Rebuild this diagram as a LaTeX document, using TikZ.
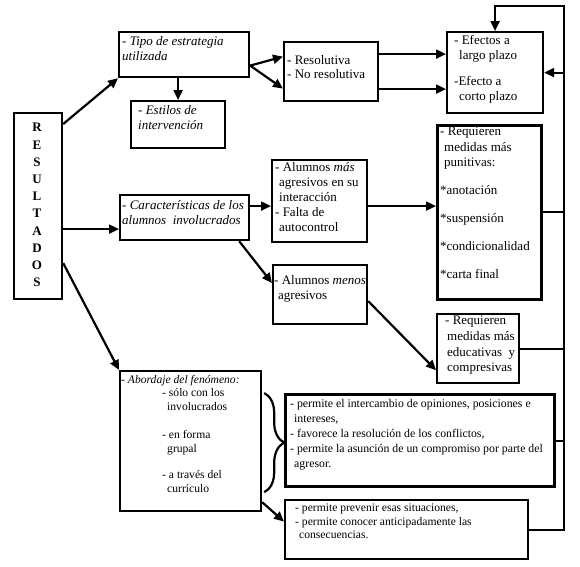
\documentclass[tikz,border=0pt]{standalone}
\usepackage{fontspec}
\setmainfont{Liberation Serif}
\usetikzlibrary{arrows.meta,calc,decorations.pathreplacing}
\begin{document}
\begin{tikzpicture}[x=1pt,y=-1pt,
  box/.style={draw,line width=2.2pt,inner sep=0,anchor=north west},
  txt/.style={inner sep=0,anchor=north west,align=left,font=\fontsize{13}{15}\selectfont},
  itxt/.style={txt,font=\fontsize{13}{15}\selectfont\itshape},
  stxt/.style={inner sep=0,anchor=north west,align=left,font=\fontsize{11.8}{15}\selectfont},
  conn/.style={line width=2.2pt},
  arr/.style={line width=2.2pt,-{Triangle[length=10pt,width=9pt]}},
  line join=miter
]
\useasboundingbox (0,0) rectangle (580,566);

% boxes
\node[box,minimum width=48pt,minimum height=186pt] (res) at (13,112) {};
\node[inner sep=0,align=center,font=\fontsize{13}{17.2}\selectfont\bfseries] (resT) at (37,205) {R\\E\\S\\U\\L\\T\\A\\D\\O\\S};

\node[box,minimum width=130pt,minimum height=45pt] (tipo) at (118,31) {};
\node[itxt] (tipoT) at (122,36) {- Tipo de estrategia\\utilizada};

\node[box,minimum width=94pt,minimum height=47pt] (estilos) at (130,100) {};
\node[itxt] (estilosT) at (138,105) {- Estilos de\\intervención};

\node[box,minimum width=94pt,minimum height=59pt] (resol) at (283,41) {};
\node[txt,font=\fontsize{13}{14.5}\selectfont] (resolT) at (287,55) {- Resolutiva\\- No resolutiva};

\node[box,minimum width=96pt,minimum height=81pt] (efectos) at (446,31) {};
\node[txt] (efectosT) at (454,35) {- Efectos a\\\hspace*{5pt}largo plazo\\[11pt]-Efecto a\\\hspace*{5pt}corto plazo};

\node[box,minimum width=104pt,minimum height=174pt,line width=2.6pt] (punit) at (436,124) {};
\node[txt,font=\fontsize{13}{15.5}\selectfont] (punitT) at (440,127) {- Requieren\\\hspace*{4pt}medidas más\\\hspace*{4pt}punitivas:\\[12.5pt]*anotación\\[12pt]*suspensión\\[13pt]*condicionalidad\\[12.5pt]*carta final};

\node[box,minimum width=95pt,minimum height=82pt] (mas) at (271,159) {};
\node[txt] (masT) at (275,162) {- Alumnos \textit{más}\\\hspace*{4pt}agresivos en su\\\hspace*{4pt}interacción\\- Falta de\\\hspace*{4pt}autocontrol};

\node[box,minimum width=129pt,minimum height=45pt] (caract) at (119,194) {};
\node[itxt] (caractT) at (122,200) {- Características de los\\alumnos \ involucrados};

\node[box,minimum width=94pt,minimum height=59pt] (menos) at (272,264) {};
\node[txt] (menosT) at (274,275) {- Alumnos \textit{menos}\\\hspace*{4pt}agresivos};

\node[box,minimum width=82pt,minimum height=69pt] (educ) at (436,313) {};
\node[txt,font=\fontsize{13}{15.7}\selectfont] (educT) at (445,316) {- Requieren\\\hspace*{2pt}medidas más\\\hspace*{2pt}educativas \ y\\\hspace*{2pt}compresivas};

\node[box,minimum width=141pt,minimum height=140pt] (abord) at (119,370) {};
\node[txt,font=\fontsize{11.6}{13.5}\selectfont] (abordT) at (121,375) {\textit{- Abordaje del fenómeno:}\\\hspace*{41pt}- sólo con los\\\hspace*{46pt}involucrados\\[15pt]\hspace*{41pt}- en forma\\\hspace*{46pt}grupal\\[13pt]\hspace*{41pt}- a través del\\\hspace*{46pt}currículo};

\node[box,minimum width=269pt,minimum height=92pt,line width=3.2pt] (perm1) at (284,393) {};
\node[stxt] (perm1T) at (290,399) {- permite el intercambio de opiniones, posiciones e\\\hspace*{4pt}intereses,\\- favorece la resolución de los conflictos,\\- permite la asunción de un compromiso por parte del\\\hspace*{4pt}agresor.};

\node[box,minimum width=243pt,minimum height=59pt] (perm2) at (284,499) {};
\node[stxt,font=\fontsize{11.6}{13.5}\selectfont] (perm2T) at (295,504) {- permite prevenir esas situaciones,\\- permite conocer anticipadamente las\\\hspace*{4pt}consecuencias.};

% connectors
\draw[arr] ($(res.north east)+(0,12)$) -- (tipo.south west);
\coordinate (c1) at ($(res.east)+(0,23)$);
\draw[arr] (c1) -- (c1 -| caract.west);
\draw[arr] ($(res.east)+(0,57)$) -- (abord.north west);

\draw[arr] (estilos.north |- tipo.south) -- (estilos.north);
\draw[arr] ($(tipo.east)+(0,11)$) -- ($(resol.west)+(0,-15)$);
\draw[arr] ($(tipo.east)+(0,11)$) -- ($(resol.west)+(0,17)$);

\coordinate (r1) at ($(resol.east)+(0,-17.5)$);
\draw[arr] (r1) -- (r1 -| efectos.west);
\coordinate (r2) at ($(resol.east)+(0,17.5)$);
\draw[arr] (r2) -- (r2 -| efectos.west);

\coordinate (c2) at ($(caract.east)+(0,-11.5)$);
\draw[arr] (c2) -- (c2 -| mas.west);
\draw[arr] ($(caract.south east)+(-11,0)$) -- ($(menos.north west)+(0,19)$);
\coordinate (c3) at ($(mas.east)+(0,5)$);
\draw[arr] (c3) -- (c3 -| punit.west);
\draw[arr] ($(menos.east)+(0,6.5)$) -- ($(educ.south west)+(0,-14)$);
\draw[arr] ($(abord.south east)+(0,-10)$) -- ($(perm2.west)+(0,-8)$);

% brace
\draw[line width=2.2pt,decorate,decoration={brace,amplitude=20pt}] ($(abord.north east)+(2,23)$) -- ($(abord.south east)+(2,-20)$);

% right rail
\coordinate (rail) at (564,6);
\draw[arr] (perm2.east) -- (perm2.east -| rail) -- (rail) -- (rail -| efectos.north) -- (efectos.north);
\draw[conn] (punit.east) -- (punit.east -| rail);
\draw[conn] (educ.east) -- (educ.east -| rail);
\draw[conn] (perm1.east) -- (perm1.east -| rail);
\draw[arr] (efectos.east -| rail) -- (efectos.east);
\end{tikzpicture}
\end{document}
